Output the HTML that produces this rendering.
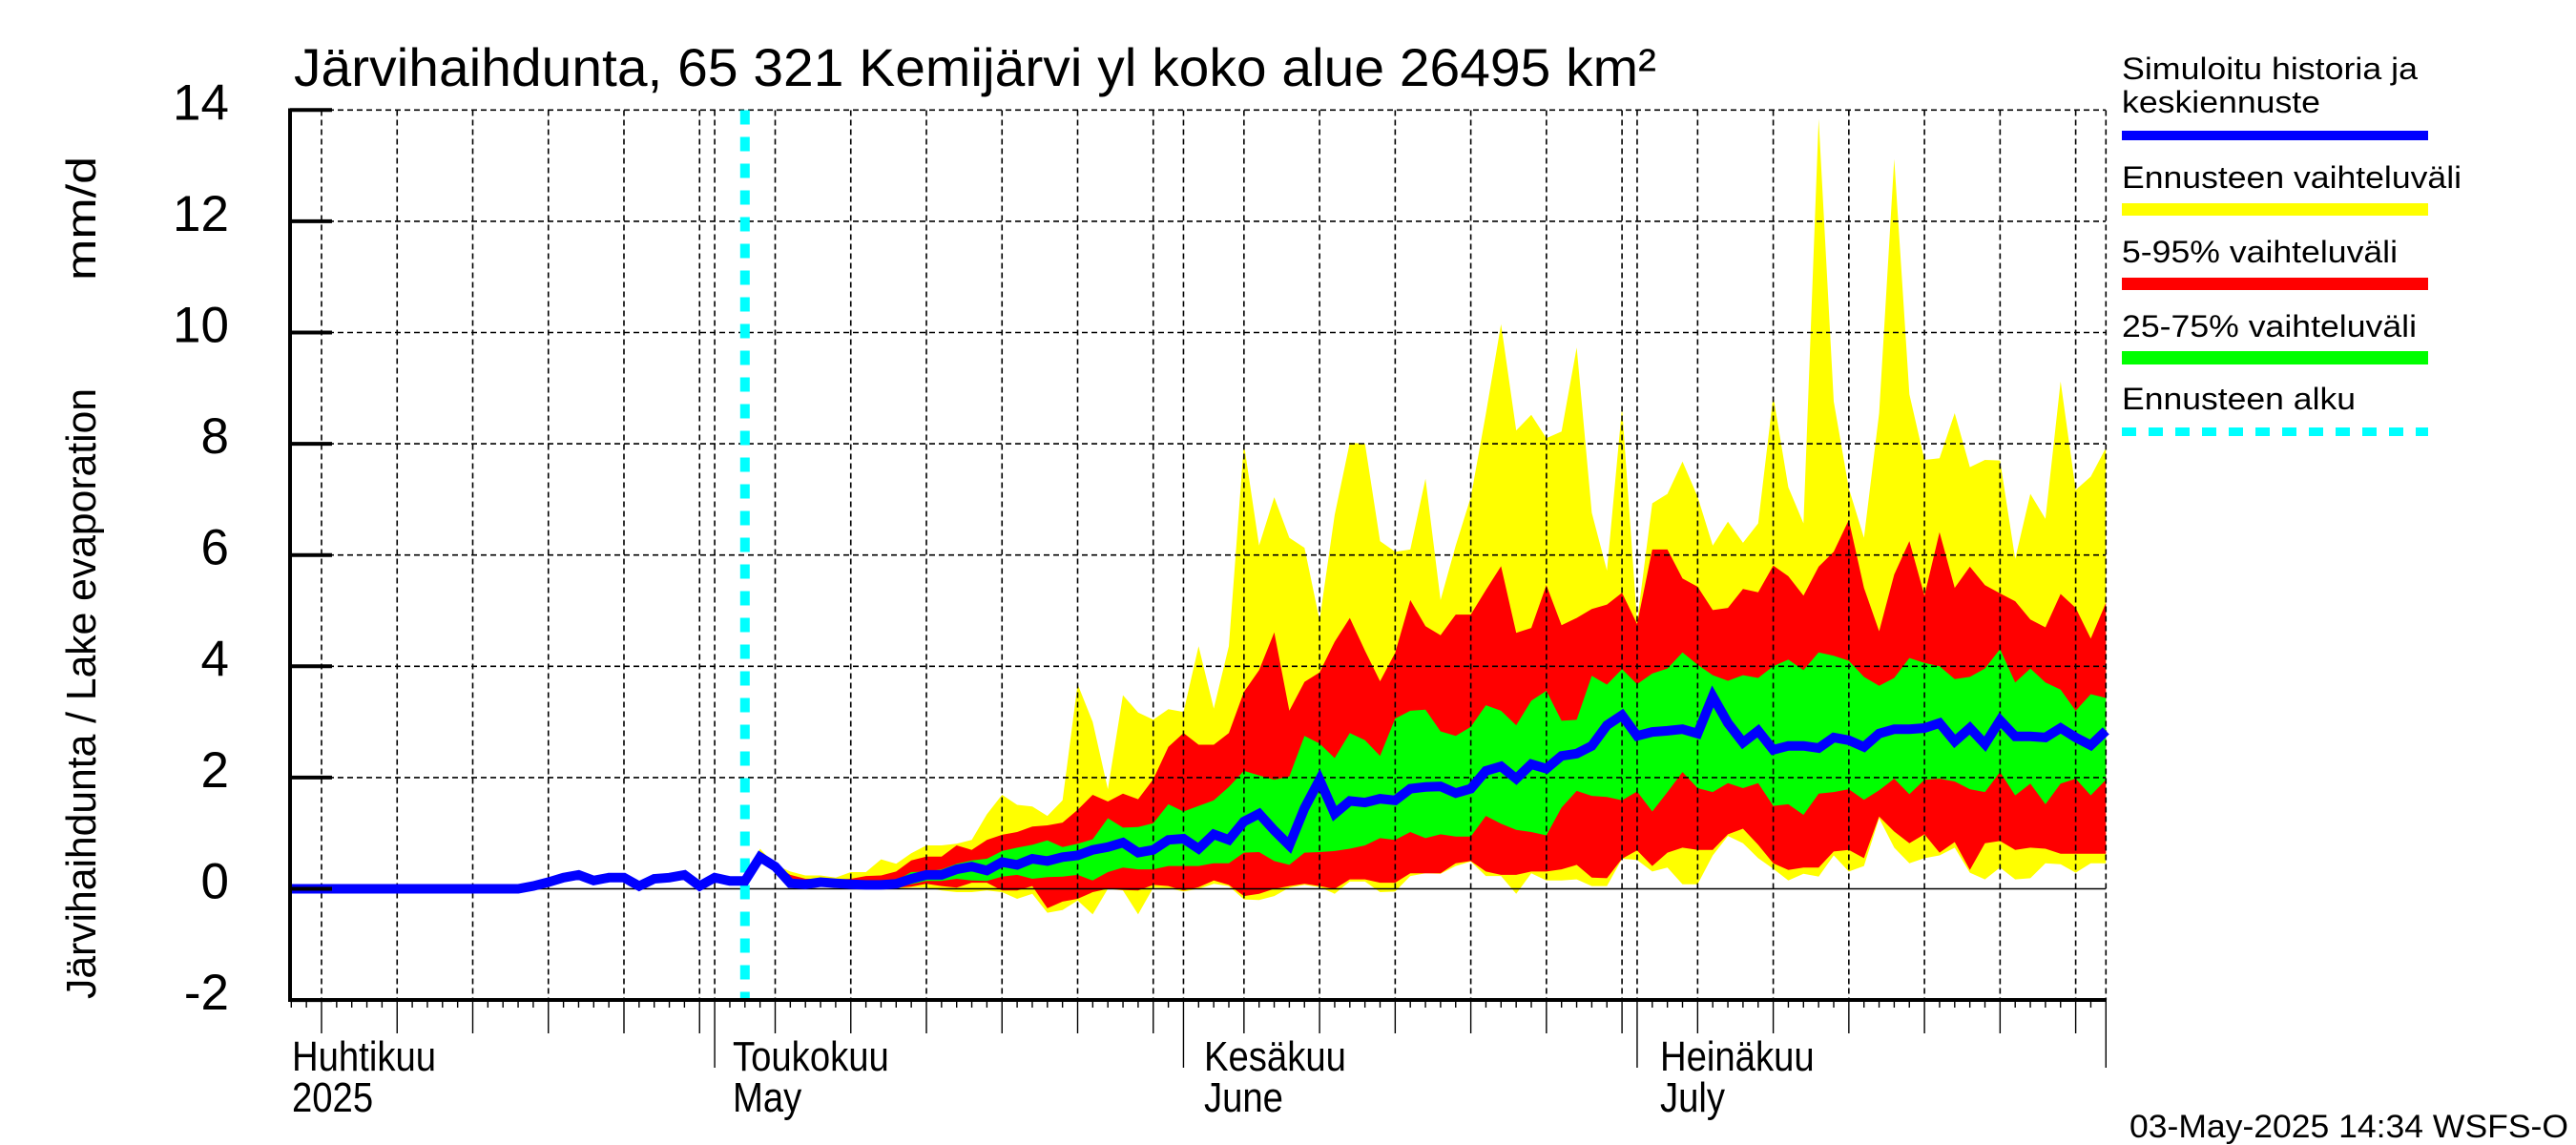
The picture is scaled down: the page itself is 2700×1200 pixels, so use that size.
<!DOCTYPE html>
<html><head><meta charset="utf-8"><title>Järvihaihdunta</title>
<style>html,body{margin:0;padding:0;background:#fff}svg{display:block}text{font-family:"Liberation Sans",sans-serif;fill:#000}</style>
</head><body>
<svg id="chart" width="2700" height="1200" viewBox="0 0 2700 1200" xmlns="http://www.w3.org/2000/svg">
<text x="308" y="90" font-size="56" textLength="1428" lengthAdjust="spacingAndGlyphs">Järvihaihdunta, 65 321 Kemijärvi yl koko alue 26495 km²</text>
<text transform="translate(100,1047) rotate(-90)" font-size="44" textLength="640" lengthAdjust="spacingAndGlyphs">Järvihaihdunta / Lake evaporation</text>
<text transform="translate(100,294) rotate(-90)" font-size="44" textLength="130" lengthAdjust="spacingAndGlyphs">mm/d</text>
<g id="plot"></g>
<g id="legend">
<text x="2224" y="83" font-size="32" textLength="310" lengthAdjust="spacingAndGlyphs">Simuloitu historia ja</text>
<text x="2224" y="118" font-size="32" textLength="208" lengthAdjust="spacingAndGlyphs">keskiennuste</text>
<rect x="2224" y="137" width="321" height="10" fill="#0000ff"/>
<text x="2224" y="197" font-size="32" textLength="356" lengthAdjust="spacingAndGlyphs">Ennusteen vaihteluväli</text>
<rect x="2224" y="213" width="321" height="13" fill="#ffff00"/>
<text x="2224" y="275" font-size="32" textLength="289" lengthAdjust="spacingAndGlyphs">5-95% vaihteluväli</text>
<rect x="2224" y="291" width="321" height="13" fill="#ff0000"/>
<text x="2224" y="353" font-size="32" textLength="309" lengthAdjust="spacingAndGlyphs">25-75% vaihteluväli</text>
<rect x="2224" y="368" width="321" height="14" fill="#00ff00"/>
<text x="2224" y="429" font-size="32" textLength="245" lengthAdjust="spacingAndGlyphs">Ennusteen alku</text>
<line x1="2224" y1="452.5" x2="2545" y2="452.5" stroke="#00ffff" stroke-width="9" stroke-dasharray="15 13"/>
</g>
<text x="2232" y="1192" font-size="34" textLength="460" lengthAdjust="spacingAndGlyphs">03-May-2025 14:34 WSFS-O</text>
</svg>
<script>
const histStart = 2;
const median = [0,0,0,0,0,0,0,0,0,0,0,0,0,0,0,0,0.05,0.12,0.2,0.25,0.15,0.2,0.2,0.05,0.18,0.2,0.25,0.05,0.2,0.14,0.14,
0.57,0.4,0.1,0.08,0.12,0.1,0.08,0.07,0.07,0.09,0.18,0.25,0.25,0.35,0.4,0.33,0.48,0.43,0.54,0.5,0.57,0.6,0.7,0.75,0.83,0.65,0.7,0.88,0.9,
0.72,0.98,0.88,1.21,1.35,1.05,0.78,1.45,1.96,1.35,1.58,1.55,1.62,1.59,1.8,1.83,1.84,1.72,1.8,2.12,2.2,1.98,2.24,2.16,2.39,2.43,2.57,2.94,3.12,2.75,
2.82,2.84,2.87,2.79,3.46,2.98,2.63,2.84,2.5,2.57,2.57,2.53,2.72,2.67,2.55,2.79,2.87,2.87,2.89,2.98,2.65,2.89,2.6,3.03,2.74,2.74,2.72,2.89,2.72,2.58,2.84];
const fcStart = 32;
const ensMax = [0.14,0.72,0.43,0.31,0.24,0.24,0.2,0.3,0.3,0.53,0.45,0.64,0.78,0.78,0.81,0.88,1.34,1.69,1.51,1.48,1.31,1.59,3.68,3.0,1.79,3.48,3.17,3.04,3.23,3.18,
4.36,3.24,4.36,8.0,6.17,7.04,6.31,6.13,4.83,6.72,8.02,8.0,6.25,6.06,6.1,7.37,5.19,6.17,7.04,8.54,10.15,8.24,8.52,8.1,8.22,9.73,6.76,5.72,8.65,4.8,
6.93,7.1,7.68,7.05,6.17,6.6,6.22,6.57,8.86,7.22,6.57,13.84,8.76,7.2,6.31,8.55,13.12,8.89,7.71,7.74,8.55,7.58,7.71,7.7,5.93,7.1,6.65,9.12,7.17,7.41,7.93];
const p95 = [0.14,0.6,0.42,0.25,0.18,0.18,0.17,0.18,0.23,0.24,0.31,0.51,0.58,0.58,0.78,0.7,0.88,0.97,1.02,1.12,1.14,1.19,1.42,1.69,1.57,1.71,1.61,1.97,2.55,2.8,
2.59,2.59,2.8,3.54,3.93,4.61,3.2,3.72,3.89,4.44,4.87,4.28,3.73,4.24,5.19,4.72,4.56,4.93,4.93,5.37,5.8,4.6,4.69,5.46,4.74,4.87,5.03,5.11,5.32,4.76,
6.1,6.1,5.58,5.43,5.01,5.05,5.39,5.33,5.81,5.62,5.27,5.79,6.06,6.63,5.41,4.63,5.65,6.25,5.27,6.41,5.41,5.79,5.46,5.31,5.17,4.84,4.7,5.3,5.05,4.5,5.14];
const p75 = [0.14,0.57,0.4,0.15,0.12,0.14,0.13,0.12,0.13,0.14,0.15,0.3,0.31,0.35,0.45,0.51,0.54,0.68,0.74,0.79,0.87,0.75,0.81,0.89,1.27,1.1,1.11,1.18,1.52,1.39,
1.49,1.59,1.83,2.12,2.04,1.96,2.02,2.75,2.61,2.35,2.8,2.67,2.39,3.06,3.2,3.22,2.83,2.75,2.91,3.3,3.2,2.94,3.38,3.56,3.02,3.04,3.83,3.67,3.95,3.68,
3.87,3.96,4.25,4.03,3.84,3.74,3.84,3.79,4.0,4.12,3.93,4.25,4.19,4.1,3.81,3.65,3.79,4.15,4.06,4.0,3.77,3.81,3.96,4.31,3.71,3.96,3.71,3.58,3.2,3.5,3.43];
const p25 = [0.14,0.55,0.4,0.08,0.07,0.08,0.06,0.05,0.05,0.05,0.05,0.08,0.14,0.14,0.18,0.15,0.14,0.22,0.25,0.18,0.21,0.22,0.25,0.15,0.3,0.38,0.35,0.35,0.41,0.41,
0.41,0.46,0.46,0.65,0.66,0.5,0.43,0.65,0.66,0.68,0.72,0.78,0.91,0.88,1.02,0.91,0.98,0.94,0.94,1.31,1.17,1.06,1.02,0.96,1.46,1.76,1.67,1.65,1.59,1.75,
1.39,1.74,2.1,1.81,1.74,1.9,1.81,1.9,1.49,1.52,1.33,1.71,1.74,1.79,1.6,1.77,1.98,1.7,1.96,1.98,1.93,1.79,1.74,2.1,1.68,1.89,1.52,1.89,1.98,1.68,1.96];
const p5 = [0.14,0.55,0.4,0.08,0.05,0.08,0.06,0.05,0.04,0.03,0.02,0.04,0.09,0.05,0.02,0.11,0.11,-0.03,-0.03,0.05,-0.35,-0.23,-0.18,-0.06,0,-0.02,-0.03,0.07,0.05,-0.03,
0.03,0.15,0.07,-0.13,-0.09,0,0.05,0.09,0.05,0,0.17,0.17,0.11,0.11,0.28,0.28,0.28,0.46,0.5,0.31,0.25,0.25,0.31,0.31,0.35,0.43,0.2,0.19,0.54,0.69,
0.41,0.65,0.74,0.7,0.7,0.98,1.08,0.79,0.46,0.34,0.38,0.38,0.67,0.7,0.55,1.3,1.03,0.82,0.98,0.65,0.84,0.34,0.82,0.86,0.7,0.74,0.72,0.63,0.63,0.63,0.63];
const ensMin = [0.14,0.55,0.4,0.08,0.05,0.08,0.06,0.04,0.03,0.02,0,0.02,0.02,-0.03,-0.06,-0.06,-0.03,-0.06,-0.18,-0.09,-0.43,-0.38,-0.21,-0.46,0,-0.03,-0.46,0.02,0.01,-0.05,
0,0.09,0.05,-0.19,-0.2,-0.13,0.02,0.07,0.03,-0.09,0.13,0.13,-0.06,-0.05,0.23,0.28,0.27,0.41,0.49,0.23,0.23,-0.09,0.28,0.15,0.15,0.17,0.05,0.05,0.54,0.52,
0.31,0.38,0.08,0.08,0.6,0.95,0.82,0.55,0.36,0.15,0.27,0.22,0.6,0.31,0.41,1.27,0.74,0.46,0.55,0.6,0.74,0.29,0.17,0.38,0.17,0.19,0.46,0.44,0.29,0.46,0.46];
const yTicks = [14,12,10,8,6,4,2,0,-2];
const monthLabels = [["Huhtikuu","2025"],["Toukokuu","May"],["Kesäkuu","June"],["Heinäkuu","July"]];
const monthDays = [0,30,61,91];
const monthLabelX = [306,768,1262,1740];

const NS="http://www.w3.org/2000/svg";
const X0=273.6, DX=15.85, Y0=931.5, DY=58.3, LEFT=304, RIGHT=2207, TOP=115.5, BOTTOM=1048;
function xs(d){return X0+d*DX;}
function ys(v){return Y0-v*DY;}
const plot=document.getElementById('plot');
function mk(tag,attrs,parent){const e=document.createElementNS(NS,tag);for(const k in attrs)e.setAttribute(k,attrs[k]);(parent||plot).appendChild(e);return e;}
function band(upper,lower,color,name){
  let pts=[];
  for(let i=0;i<upper.length;i++)pts.push(xs(fcStart+i).toFixed(1)+','+ys(upper[i]).toFixed(1));
  for(let i=lower.length-1;i>=0;i--)pts.push(xs(fcStart+i).toFixed(1)+','+ys(lower[i]).toFixed(1));
  const p=mk('polygon',{points:pts.join(' '),fill:color});
  
  
}
band(ensMax,ensMin,'#ffff00','band-ensemble-range');
band(p95,p5,'#ff0000','band-5-95');
band(p75,p25,'#00ff00','band-25-75');
const grid=mk('g',{stroke:'#000','stroke-width':1.6,'stroke-dasharray':'6 4',fill:'none'});


for(const v of yTicks){ if(v===-2||v===0)continue;
  mk('line',{x1:LEFT,x2:RIGHT,y1:ys(v),y2:ys(v)},grid);}
const monthStarts=[0,30,61,91,122];
for(let d=2;d<=122;d++){
  const dom = d<30? d+1 : d<61? d-29 : d<91? d-60 : d<122? d-90 : 1;
  if(monthStarts.includes(d)|| (dom%5===0 && dom<=30)){
    mk('line',{x1:xs(d),x2:xs(d),y1:TOP,y2:BOTTOM},grid);
  }
}
const zl=mk('line',{x1:LEFT,x2:RIGHT,y1:ys(0),y2:ys(0),stroke:'#000','stroke-width':1.6});


const fl=mk('line',{x1:xs(fcStart),x2:xs(fcStart),y1:TOP,y2:BOTTOM,stroke:'#00ffff','stroke-width':10,'stroke-dasharray':'15 13'});


let mp=[LEFT+','+ys(median[0]).toFixed(1)];
for(let i=0;i<median.length;i++)mp.push(xs(histStart+i).toFixed(1)+','+ys(median[i]).toFixed(1));
const ml=mk('polyline',{points:mp.join(' '),fill:'none',stroke:'#0000ff','stroke-width':10,'stroke-linejoin':'miter','stroke-miterlimit':3});


const ax=mk('g',{stroke:'#000',fill:'none'});


mk('line',{x1:LEFT,x2:LEFT,y1:TOP-2,y2:BOTTOM+2,'stroke-width':4},ax);
mk('line',{x1:LEFT-2,x2:RIGHT,y1:BOTTOM,y2:BOTTOM,'stroke-width':4},ax);
for(const v of yTicks){
  mk('line',{x1:LEFT,x2:LEFT+44,y1:ys(v),y2:ys(v),'stroke-width':4},ax);
  const t=mk('text',{x:240,y:ys(v)+10,'font-size':53,'text-anchor':'end'});
  t.textContent=String(v);
  
  
}
for(let d=2;d<=122;d++){
  const dom = d<30? d+1 : d<61? d-29 : d<91? d-60 : d<122? d-90 : 1;
  let len=8;
  if(monthStarts.includes(d))len=71; else if(dom%5===0)len=35;
  mk('line',{x1:xs(d),x2:xs(d),y1:BOTTOM,y2:BOTTOM+len,'stroke-width':1.4},ax);
}
for(let i=0;i<monthLabels.length;i++){
  const t1=mk('text',{x:monthLabelX[i],y:1122,'font-size':44,'transform':'translate('+monthLabelX[i]+',0) scale(0.87,1) translate('+(-monthLabelX[i])+',0)'});
  t1.textContent=monthLabels[i][0];
  
  
  const t2=mk('text',{x:monthLabelX[i],y:1165,'font-size':44,'transform':'translate('+monthLabelX[i]+',0) scale(0.87,1) translate('+(-monthLabelX[i])+',0)'});
  t2.textContent=monthLabels[i][1];
  
  
}
</script>
</body></html>
